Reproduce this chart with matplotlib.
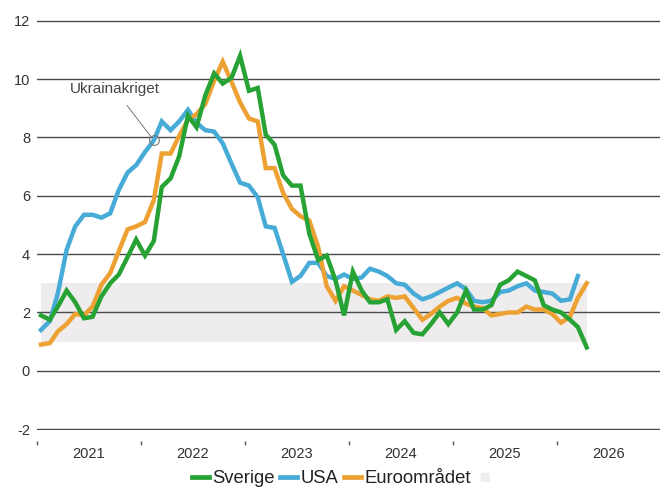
import matplotlib
matplotlib.use('Agg')
import matplotlib.pyplot as plt
import matplotlib.dates as mdates
from matplotlib.lines import Line2D
import pandas as pd
import datetime

plt.rcParams['font.family'] = ['Liberation Sans', 'DejaVu Sans']
plt.rcParams['axes.unicode_minus'] = False

# monthly inflation, Jan 2021 onwards (percent)
months = pd.date_range('2021-01-01', periods=64, freq='MS') + pd.Timedelta(days=14)

sverige = [1.9, 1.75, 2.2, 2.75, 2.35, 1.8, 1.85, 2.55, 3.0, 3.3, 3.9, 4.5,
           3.95, 4.45, 6.3, 6.6, 7.35, 8.75, 8.35, 9.45, 10.2, 9.85, 10.05, 10.8,
           9.6, 9.7, 8.1, 7.75, 6.7, 6.35, 6.35, 4.7, 3.8, 3.95, 3.1, 1.9,
           3.4, 2.75, 2.35, 2.35, 2.45, 1.4, 1.7, 1.3, 1.25, 1.6, 2.0, 1.6,
           2.0, 2.75, 2.1, 2.1, 2.25, 2.95, 3.1, 3.4, 3.25, 3.1, 2.25, 2.1,
           2.0, 1.75, 1.5, 0.8]

usa = [1.4, 1.7, 2.65, 4.15, 4.95, 5.35, 5.35, 5.25, 5.4, 6.2, 6.8, 7.05,
       7.5, 7.9, 8.55, 8.25, 8.55, 8.95, 8.5, 8.25, 8.2, 7.8, 7.1, 6.45,
       6.35, 5.95, 4.95, 4.9, 4.0, 3.05, 3.25, 3.7, 3.7, 3.25, 3.15, 3.3,
       3.15, 3.2, 3.5, 3.4, 3.25, 3.0, 2.95, 2.65, 2.45, 2.55, 2.7, 2.85,
       3.0, 2.8, 2.4, 2.35, 2.4, 2.7, 2.75, 2.9, 3.0, 2.75, 2.7, 2.65,
       2.4, 2.45, 3.25]

euro = [0.9, 0.95, 1.35, 1.6, 1.95, 1.9, 2.2, 2.95, 3.35, 4.1, 4.85, 4.95,
        5.1, 5.85, 7.45, 7.45, 8.05, 8.6, 8.8, 9.15, 9.95, 10.6, 9.9, 9.2,
        8.65, 8.55, 6.95, 6.95, 6.1, 5.55, 5.3, 5.15, 4.25, 2.9, 2.4, 2.9,
        2.75, 2.6, 2.45, 2.4, 2.55, 2.5, 2.55, 2.15, 1.75, 1.95, 2.2, 2.4,
        2.5, 2.3, 2.2, 2.15, 1.9, 1.95, 2.0, 2.0, 2.2, 2.1, 2.1, 1.95,
        1.65, 1.85, 2.5, 3.0]

# inflation target band
band_low, band_high = 1, 3

GREEN = '#27a234'
BLUE = '#46abd7'
ORANGE = '#eda132'
BAND = '#eeecec'

fig = plt.figure(figsize=(6.6, 4.88), dpi=100)
ax = fig.add_axes([0.0561, 0.1189, 0.9455, 0.8402])

ax.fill_between([months[0], months[-1]], band_low, band_high, color=BAND, lw=0, zorder=1)

ax.plot(months[:len(usa)], usa, color=BLUE, lw=3.2, zorder=3, solid_joinstyle='miter')
ax.plot(months, euro, color=ORANGE, lw=3.2, zorder=3, solid_joinstyle='miter')
ax.plot(months, sverige, color=GREEN, lw=3.2, zorder=4, solid_joinstyle='miter')

# annotation for the war
ax.plot([months[13]], [usa[13]], marker='o', ms=7, mfc='none', mec='#777777', mew=0.8, zorder=5)
ax.annotate('Ukrainakriget', xy=(months[13], usa[13]),
            xytext=(datetime.datetime(2021, 4, 25), 9.66),
            fontsize=11, color='#444444', va='center', ha='left',
            arrowprops=dict(arrowstyle='-', color='#777777', lw=0.7, shrinkA=6, shrinkB=4),
            zorder=5)

# axes
ax.set_ylim(-2.03, 12.03)
ax.set_xlim(datetime.datetime(2021, 1, 1), datetime.datetime(2027, 1, 1))
ax.set_yticks(range(-2, 13, 2))
ax.yaxis.grid(True, color='#4a4a4a', lw=1.0, zorder=2)
ax.tick_params(axis='y', length=0, pad=5, labelsize=10.5, labelcolor='#333333')

ax.xaxis.set_major_locator(mdates.YearLocator())
ax.xaxis.set_major_formatter(plt.NullFormatter())
ax.xaxis.set_minor_locator(mdates.MonthLocator(bymonth=7))
ax.xaxis.set_minor_formatter(mdates.DateFormatter('%Y'))
ax.tick_params(axis='x', which='major', length=3, width=1, color='#555555')
ax.tick_params(axis='x', which='minor', length=0, pad=4, labelsize=10.5, labelcolor='#333333')
ax.spines['bottom'].set_position(('outward', 8))

for s in ['top', 'right', 'left', 'bottom']:
    ax.spines[s].set_visible(False)

# legend
handles = [Line2D([], [], color=GREEN, lw=3.4),
           Line2D([], [], color=BLUE, lw=3.4),
           Line2D([], [], color=ORANGE, lw=3.4),
           Line2D([], [], marker='s', ls='none', color='#eeeeee', ms=6)]
labels = ['Sverige', 'USA', 'Euroområdet', '']
fig.legend(handles, labels, loc='center', bbox_to_anchor=(0.522, 0.019), ncol=4,
           frameon=False, fontsize=13.3, handlelength=0.9, handletextpad=0.2,
           columnspacing=0.3, labelcolor='#222222')

plt.savefig('out.png', dpi=100)
